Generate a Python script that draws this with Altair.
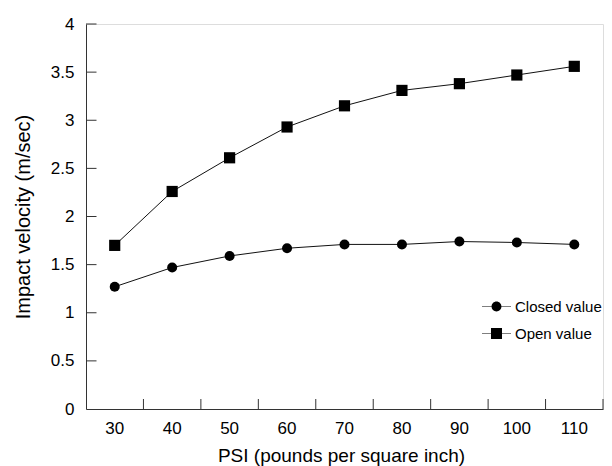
import altair as alt
import pandas as pd

# ---- data ----
psi = [30, 40, 50, 60, 70, 80, 90, 100, 110]
closed_value = [1.27, 1.47, 1.59, 1.67, 1.71, 1.71, 1.74, 1.73, 1.71]
open_value = [1.70, 2.26, 2.61, 2.93, 3.15, 3.31, 3.38, 3.47, 3.56]
series_names = ["Closed value", "Open value"]
y_tick_values = [0, 0.5, 1, 1.5, 2, 2.5, 3, 3.5, 4]

W, H = 517, 385
FONT = "Liberation Sans"

rows = []
for p, c, o in zip(psi, closed_value, open_value):
    rows.append({"psi": p, "series": series_names[0], "v": c})
    rows.append({"psi": p, "series": series_names[1], "v": o})
df = pd.DataFrame(rows)
cat_df = pd.DataFrame({"psi": psi})
ytick_df = pd.DataFrame({"v": y_tick_values[1:]})

xscale = alt.Scale(type="band", domain=psi, paddingInner=0, paddingOuter=0)
yscale = alt.Scale(domain=[0, 4], nice=False, zero=True)

x_axis = alt.Axis(
    title="PSI (pounds per square inch)",
    ticks=False, grid=False, labelAngle=0,
    labelFontSize=17, labelPadding=11, labelColor="black", labelFont=FONT,
    titleFontSize=19, titleFontWeight="normal", titleColor="black", titleFont=FONT,
    titleBaseline="alphabetic", titleY=52, titleX=255,
    domainColor="#333333", domainWidth=1,
)
y_axis = alt.Axis(
    title="Impact velocity (m/sec)",
    values=y_tick_values, format=".1~f",
    ticks=False, grid=False,
    labelFontSize=17, labelPadding=12, labelColor="black", labelFont=FONT,
    titleFontSize=20, titleFontWeight="normal", titleColor="black", titleFont=FONT,
    titleX=-53, titleY=H / 2,
    domainColor="#333333", domainWidth=1,
)

X = alt.X("psi:O", scale=xscale, bandPosition=0.5, axis=x_axis)
Y = alt.Y("v:Q", scale=yscale, axis=y_axis)

lines = alt.Chart(df).mark_line(color="#111111", strokeWidth=1).encode(
    x=X, y=Y, detail="series:N"
)

points = alt.Chart(df).mark_point(filled=True, color="black", opacity=1).encode(
    x=X, y=Y,
    shape=alt.Shape("series:N", scale=alt.Scale(domain=series_names, range=["circle", "square"]), legend=None),
    size=alt.Size("series:N", scale=alt.Scale(domain=series_names, range=[100, 125]), legend=None),
)

# legend symbols: a thin horizontal bar (the line) plus the marker, fill only
closed_path = ("M-1,-0.018L1,-0.018L1,0.018L-1,0.018Z"
               "M-0.34,0A0.34,0.34 0 1,1 0.34,0A0.34,0.34 0 1,1 -0.34,0Z")
open_path = ("M-1,-0.018L1,-0.018L1,0.018L-1,0.018Z"
             "M-0.38,-0.38L0.38,-0.38L0.38,0.38L-0.38,0.38Z")

legend_layer = alt.Chart(df).transform_filter("false").mark_point(
    filled=True, fill="black", opacity=1
).encode(
    x=alt.X("psi:O", scale=xscale, bandPosition=0.5),
    y=alt.Y("v:Q", scale=yscale),
    shape=alt.Shape(
        "series:N",
        scale=alt.Scale(domain=series_names, range=[closed_path, open_path]),
        legend=alt.Legend(
            title=None, orient="none", legendX=396, legendY=268,
            symbolSize=841, symbolFillColor="black",
            symbolStrokeWidth=0, labelOffset=4, labelFontSize=15, labelColor="black",
            labelFont=FONT, padding=0, rowPadding=4,
        ),
    ),
)

ytick_rules = alt.Chart(ytick_df).mark_rule(color="#333333", strokeWidth=1).encode(
    y=alt.Y("v:Q", scale=yscale),
    x=alt.value(0), x2=alt.value(10.5),
)
xtick_rules = alt.Chart(cat_df).mark_rule(color="#333333", strokeWidth=1).encode(
    x=alt.X("psi:O", scale=xscale, bandPosition=1),
    y=alt.value(H), y2=alt.value(H - 10),
)

chart = alt.layer(
    lines, points, legend_layer, ytick_rules, xtick_rules
).resolve_scale(
    shape="independent", size="independent"
).properties(
    width=W, height=H,
    autosize=alt.AutoSizeParams(type="none"),
    padding={"left": 78, "top": 16, "right": 1, "bottom": 57},
).configure_view(stroke=None).configure(font=FONT)

chart.save("out.html", embed_options={"renderer": "svg", "actions": False})
